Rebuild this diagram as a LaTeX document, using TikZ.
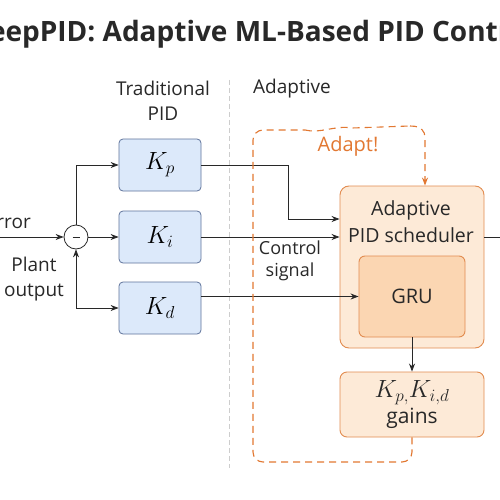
\documentclass[tikz,border=0pt]{standalone}
\usepackage{fontspec}
\setmainfont{Open Sans}
\usetikzlibrary{arrows.meta}
\definecolor{bluefill}{RGB}{220,233,250}
\definecolor{blueedge}{RGB}{95,115,155}
\definecolor{orfill}{RGB}{253,234,215}
\definecolor{orinner}{RGB}{251,214,178}
\definecolor{oredge}{RGB}{226,140,80}
\definecolor{ordash}{RGB}{226,120,50}
\definecolor{ink}{RGB}{40,40,40}
\definecolor{sepgray}{RGB}{205,205,205}
\tikzset{
  gainbox/.style={draw=blueedge, fill=bluefill, rounded corners=4pt, line width=0.8pt,
    minimum width=82pt, minimum height=52pt, inner sep=0pt, font=\fontsize{23}{24}\selectfont},
  orbox/.style={draw=oredge, fill=orfill, rounded corners=9pt, line width=0.9pt, inner sep=0pt},
  label/.style={font=\fontsize{19}{25}\selectfont, text=ink, align=center, inner sep=0pt},
  conn/.style={draw=ink, line width=0.8pt, -{Stealth[length=8pt,width=6pt]}},
  plain/.style={draw=ink, line width=0.8pt},
  adapt/.style={draw=ordash, line width=1.1pt, dash pattern=on 7pt off 5pt},
}
\begin{document}
\begin{tikzpicture}[x=1pt,y=-1pt]
\useasboundingbox (0,0) rectangle (500,500);
\clip (0,0) rectangle (500,500);
\fill[white] (0,0) rectangle (500,500);

% title
\node[font=\fontsize{28}{30}\selectfont\bfseries, text=ink, inner sep=0pt] (title) at (271,34) {DeepPID: Adaptive ML-Based PID Controller};

% separator
\draw[sepgray, line width=0.7pt, dash pattern=on 5pt off 3pt] (229,80) -- (229,468);

% section labels
\node[label] (trad) at (163,101) {Traditional\\PID};
\node[label] (adl) at (292,89) {Adaptive};

% gain boxes
\node[gainbox] (kp) at (160,165) {$K_p$};
\node[gainbox] (ki) at (160,237) {$K_i$};
\node[gainbox] (kd) at (160,308) {$K_d$};

% summing junction
\node[draw=ink, fill=white, circle, minimum size=24pt, inner sep=0pt, line width=0.8pt] (sum) at (76,237) {};
\draw[ink, line width=0.8pt] (72.5,237.5) -- (79.5,237.5);

% input labels
\node[label, anchor=east] (err) at (31,222) {Error};
\node[label] (plant) at (34,279) {Plant\\output};

\coordinate (ein) at (-5,237);
\coordinate (c1) at (76,165);
\coordinate (c3) at (76,308);

\draw[conn] (ein) -- (sum.west);
\draw[conn] (sum.north) -- (c1) -- (kp.west);
\draw[conn] (sum.east) -- (ki.west);
\draw[conn] (c3) -- (sum.south);
\draw[conn] (c3) -- (kd.west);

% scheduler
\node[orbox, minimum width=144pt, minimum height=162pt] (sched) at (412,267) {};
\node[label, font=\fontsize{19.5}{27}\selectfont] (schedtxt) at (411,222) {Adaptive\\PID scheduler};
\node[orbox, fill=orinner, rounded corners=6pt, minimum width=106pt, minimum height=81pt, font=\fontsize{20}{22}\selectfont, text=ink] (gru) at (412,296.5) {GRU};

% gains
\node[orbox, rounded corners=7pt, minimum width=144pt, minimum height=65pt, align=center, font=\fontsize{21}{25}\selectfont, text=ink] (gains) at (412,404.5) {\fontsize{23}{25}\selectfont$K_{p,}K_{i,d}$\\[1pt]gains};

% control signal label
\node[label, font=\fontsize{18}{22}\selectfont] (ctrl) at (290,261) {Control\\signal};

% connections to scheduler
\coordinate (k1) at (288,165);
\coordinate (k2) at (288,219);
\draw[conn] (kp.east) -- (k1) -- (k2) -- (sched.west |- k2);
\draw[conn] (ki.east) -- (sched.west |- ki);
\draw[conn] (kd.east |- gru.west) -- (gru.west);
\coordinate (out) at (505,237);
\draw[plain] (sched.east |- out) -- (out);
\draw[conn] (gru.south) -- (gains.north);

% adapt loop
\node[font=\fontsize{20}{22}\selectfont, text=ordash, inner sep=0pt] (adtxt) at (348,146) {Adapt!};
\coordinate (a0) at (412,462);
\coordinate (a1) at (253,462);
\coordinate (a2) at (253,130);
\coordinate (a3) at (425,127);
\draw[adapt, rounded corners=10pt] (gains.south) -- (a0) -- (a1) -- (a2) -- (305,130);
\draw[adapt] (305,130) .. controls (320,134) and (335,125) .. (352,128) -- (410,126);
\draw[adapt, rounded corners=10pt, -{Stealth[length=8pt,width=6pt]}] (410,126) -- (a3) -- (sched.north -| a3);
\end{tikzpicture}
\end{document}
